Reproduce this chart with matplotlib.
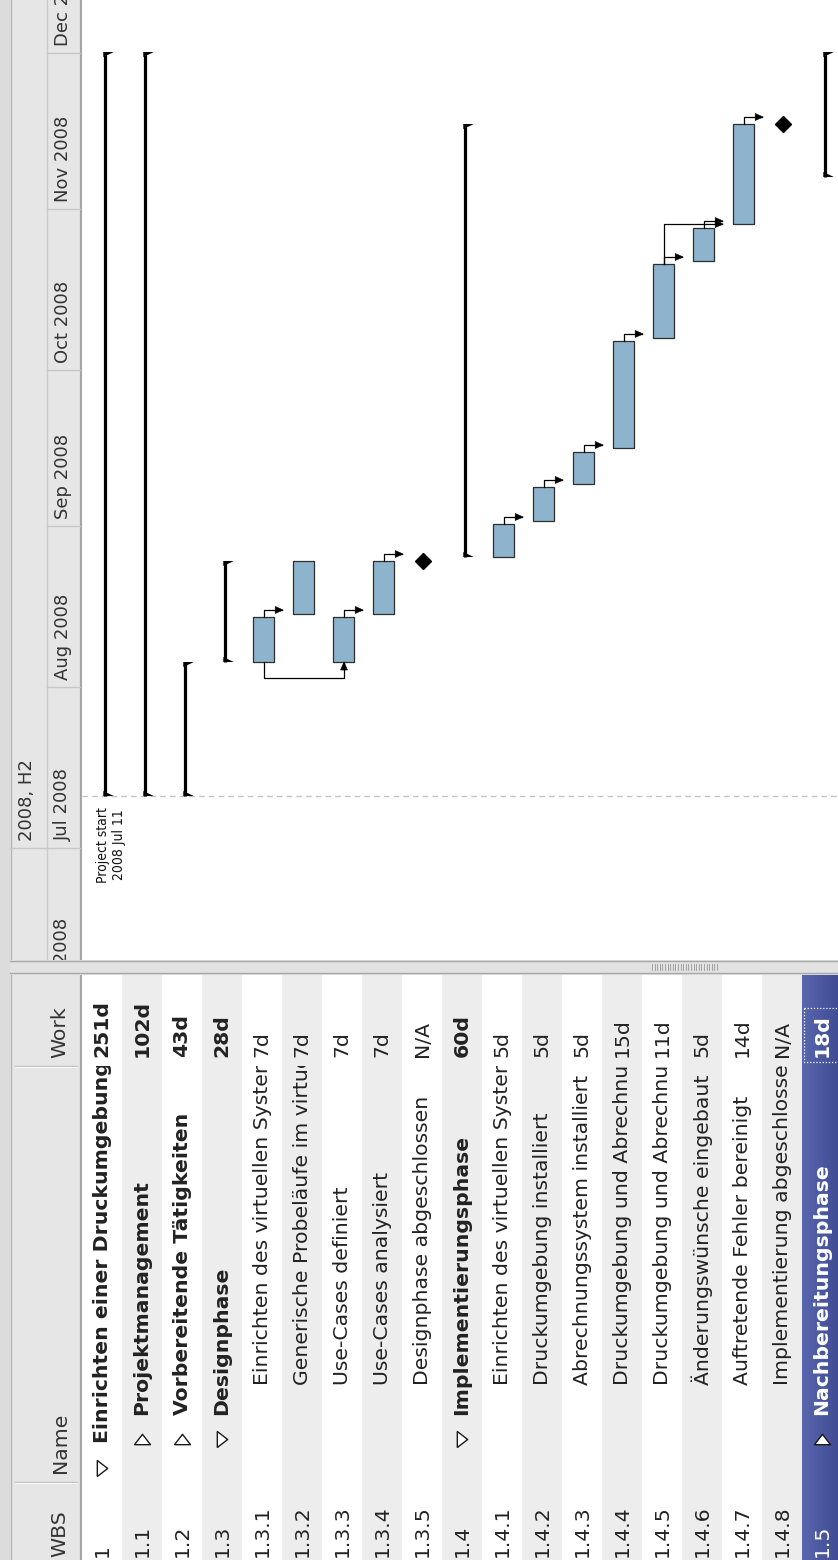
import numpy as np
import pandas as pd
import matplotlib
matplotlib.use('Agg')
import matplotlib.pyplot as plt
import matplotlib.dates as mdates
from matplotlib.patches import Rectangle, Polygon
from matplotlib.transforms import Bbox, TransformedBbox
from matplotlib.path import Path
from matplotlib.colors import LinearSegmentedColormap

# ---- data ----
wbs = ['1', '1.1', '1.2', '1.3', '1.3.1', '1.3.2', '1.3.3', '1.3.4', '1.3.5', '1.4',
       '1.4.1', '1.4.2', '1.4.3', '1.4.4', '1.4.5', '1.4.6', '1.4.7', '1.4.8', '1.5']
names = ['Einrichten einer Druckumgebung', 'Projektmanagement', 'Vorbereitende Tätigkeiten',
         'Designphase', 'Einrichten des virtuellen Systems',
         'Generische Probeläufe im virtuellen System', 'Use-Cases definiert',
         'Use-Cases analysiert', 'Designphase abgeschlossen', 'Implementierungsphase',
         'Einrichten des virtuellen Systems', 'Druckumgebung installiert',
         'Abrechnungssystem installiert', 'Druckumgebung und Abrechnungssystem konfiguriert',
         'Druckumgebung und Abrechnungssystem getestet', 'Änderungswünsche eingebaut',
         'Auftretende Fehler bereinigt', 'Implementierung abgeschlossen', 'Nachbereitungsphase']
work = ['251d', '102d', '43d', '28d', '7d', '7d', '7d', '7d', 'N/A', '60d',
        '5d', '5d', '5d', '15d', '11d', '5d', '14d', 'N/A', '18d']
levels = [1, 2, 2, 2, 3, 3, 3, 3, 3, 2, 3, 3, 3, 3, 3, 3, 3, 3, 2]
kinds = ['summary', 'summary', 'summary', 'summary', 'task', 'task', 'task', 'task',
         'milestone', 'summary', 'task', 'task', 'task', 'task', 'task', 'task', 'task',
         'milestone', 'summary']
expanded = {'1': True, '1.1': False, '1.2': False, '1.3': True, '1.4': True, '1.5': False}
selected = '1.5'

starts = ['2008-07-11 00:00', '2008-07-11 00:00', '2008-07-11 00:00', '2008-08-05 19:00',
          '2008-08-05 19:00', '2008-08-15 01:00', '2008-08-05 19:00', '2008-08-15 01:00',
          '2008-08-25 05:30', '2008-08-26 00:00', '2008-08-26 00:00', '2008-09-01 22:00',
          '2008-09-09 01:00', '2008-09-15 23:30', '2008-10-07 03:30', '2008-10-21 23:00',
          '2008-10-29 02:00', '2008-11-17 08:00', '2008-11-07 03:30']
ends = ['2008-12-01 04:30', '2008-12-01 04:30', '2008-08-05 19:00', '2008-08-25 05:30',
        '2008-08-14 11:00', '2008-08-25 05:30', '2008-08-14 11:00', '2008-08-25 05:30',
        '2008-08-25 05:30', '2008-11-17 08:00', '2008-09-01 08:30', '2008-09-08 11:30',
        '2008-09-15 05:00', '2008-10-06 14:00', '2008-10-21 09:30', '2008-10-28 07:30',
        '2008-11-17 08:00', '2008-11-17 08:00', '2008-12-01 04:30']

links_fs = [('1.3.1', '1.3.2'), ('1.3.3', '1.3.4'), ('1.3.4', '1.3.5'),
            ('1.4.1', '1.4.2'), ('1.4.2', '1.4.3'), ('1.4.3', '1.4.4'), ('1.4.4', '1.4.5'),
            ('1.4.5', '1.4.6'), ('1.4.5', '1.4.7'), ('1.4.6', '1.4.7'), ('1.4.7', '1.4.8')]
links_ss = [('1.3.1', '1.3.3')]

project_start = '2008-07-11'
month_starts = pd.date_range('2008-06-01', '2009-01-01', freq='MS')
half_start = pd.Timestamp('2008-07-01')

plt.rcParams['font.family'] = ['DejaVu Sans']

W, H = 838, 1560
PPD = 5.196   # pixels per day
ROW = 40      # pixels per table row
TXT = '#222222'
FS = 14.7

fig = plt.figure(figsize=(W / 100, H / 100), dpi=100)
fig.patch.set_facecolor('white')


def px_axes(x0, y0, x1, y1, **kw):
    ax = fig.add_axes([x0 / W, 1 - y1 / H, (x1 - x0) / W, (y1 - y0) / H], **kw)
    ax.set_axis_off()
    return ax


def vtext(ax, x, y, s, **kw):
    kw.setdefault('color', TXT)
    return ax.text(x, y, s, rotation=90, rotation_mode='anchor',
                   ha=kw.pop('ha', 'left'), va=kw.pop('va', 'center'), clip_on=True, **kw)


def to_num(seq):
    return mdates.date2num(pd.to_datetime(seq, format='%Y-%m-%d %H:%M').to_pydatetime())


t_start = to_num(starts)
t_end = to_num(ends)
t_jul = mdates.date2num(pd.Timestamp('2008-07-01').to_pydatetime())
idx = {w: i for i, w in enumerate(wbs)}
nrows_vis = (W - 82) / ROW

# ---- gantt area ----
ax_g = px_axes(82, 0, W, 960)
ylo, yhi = t_jul - (960 - 848) / PPD, t_jul + 848 / PPD

t_ps = mdates.date2num(pd.Timestamp(project_start).to_pydatetime())
ax_g.plot([0, nrows_vis], [t_ps, t_ps], color='#c4c4c4', lw=1, ls=(0, (4, 3)))
vtext(ax_g, (111 - 82) / ROW, t_ps - 11 / PPD,
      'Project start\n' + pd.Timestamp(project_start).strftime('%Y %b %d'),
      ha='right', multialignment='center', fontsize=10, fontstretch='condensed',
      color='#111111', linespacing=1.1)

for i, k in enumerate(kinds):
    s, e = t_start[i], t_end[i]
    if k == 'task':
        ax_g.add_patch(Rectangle((i + 0.275, s), 0.525, e - s, fc='#8db4cc',
                                 ec='#2e2e2e', lw=0.9, zorder=3))
    elif k == 'milestone':
        ax_g.plot(i + 0.525, s, marker='D', ms=8.6, color='black', zorder=3)
    else:
        xl = i + 0.57
        ax_g.plot([xl, xl], [s, e], color='black', lw=2.3, solid_capstyle='butt', zorder=3)
        cw, ch = 9 / ROW, 5 / PPD
        x0 = xl - 1.5 / ROW
        ax_g.add_patch(Polygon([(x0, e), (xl + cw, e), (x0, e - ch)], fc='black', lw=0, zorder=3))
        ax_g.add_patch(Polygon([(x0, s), (xl + cw, s), (x0, s + ch)], fc='black', lw=0, zorder=3))


def arrow_head(ax, tx, ty, direction):
    if direction == 'right':
        v = [(tx, ty), (tx - 8 / ROW, ty + 3.5 / PPD), (tx - 8 / ROW, ty - 3.5 / PPD)]
    else:
        v = [(tx, ty), (tx - 3.5 / ROW, ty - 8 / PPD), (tx + 3.5 / ROW, ty - 8 / PPD)]
    ax.add_patch(Polygon(v, fc='black', ec='black', lw=0.4, zorder=4))


for a, b in links_fs:
    i, j = idx[a], idx[b]
    xc = i + 0.55
    yh = max(t_end[i] + 7 / PPD, t_start[j])
    ax_g.plot([xc, xc, j], [t_end[i], yh, yh], color='black', lw=0.9, zorder=4)
    arrow_head(ax_g, j + 0.03, yh, 'right')

for a, b in links_ss:
    i, j = idx[a], idx[b]
    yl = t_start[i] - 16 / PPD
    ax_g.plot([i + 0.55, i + 0.55, j + 0.55, j + 0.55],
              [t_start[i], yl, yl, t_start[j]], color='black', lw=0.9, zorder=4)
    arrow_head(ax_g, j + 0.55, t_start[j], 'up')

ax_g.set_xlim(0, nrows_vis)
ax_g.set_ylim(ylo, yhi)

# ---- timeline header ----
ax_h = px_axes(0, 0, 82, 960, sharey=ax_g)
ax_h.add_patch(Rectangle((0, ylo), 10, yhi - ylo, fc='#dcdcdc', lw=0))
ax_h.add_patch(Rectangle((10, ylo), 72, yhi - ylo, fc='#e6e6e6', lw=0))
ax_h.plot([10.5, 10.5], [ylo, yhi], color='#b4b4b4', lw=1)
ax_h.plot([47, 47], [ylo, yhi], color='#cacaca', lw=1)
ax_h.plot([81, 81], [ylo, yhi], color='#a4a4a4', lw=1.6)
for m in month_starts:
    tm = mdates.date2num(m.to_pydatetime())
    ax_h.plot([47, 80], [tm, tm], color='#c6c6c6', lw=1)
    vtext(ax_h, 63, tm + 7 / PPD, m.strftime('%b %Y'), fontsize=13, color='#333333')
th = mdates.date2num(half_start.to_pydatetime())
ax_h.plot([10, 47], [th, th], color='#c6c6c6', lw=1)
vtext(ax_h, 27, th + 7 / PPD, f'{half_start.year}, H{1 if half_start.month < 7 else 2}',
      fontsize=13, color='#333333')
ax_h.set_xlim(0, 82)
ax_h.set_ylim(ylo, yhi)

# ---- splitter ----
ax_s = px_axes(0, 960, W, 975)
ax_s.add_patch(Rectangle((0, 960), W, 15, fc='#e2e2e2', lw=0))
ax_s.add_patch(Rectangle((0, 960), 10, 15, fc='#dcdcdc', lw=0))
ax_s.plot([10, W], [961, 961], color='#a8a8a8', lw=1)
ax_s.plot([10, W], [972.5, 972.5], color='#a8a8a8', lw=1)
for gx in np.arange(652, 718, 2.6):
    ax_s.plot([gx, gx], [963.5, 970], color='#9a9a9a', lw=0.6)
ax_s.set_xlim(0, W)
ax_s.set_ylim(975, 960)

# ---- table ----
ax_t = px_axes(82, 975, W, H)
for i in range(len(wbs)):
    ax_t.add_patch(Rectangle((i, 975), 1, H - 975,
                             fc='white' if i % 2 == 0 else '#ededed', lw=0, zorder=0))
sel = idx[selected]
sel_cmap = LinearSegmentedColormap.from_list('sel', ['#5867ae', '#3e4992'])
ax_t.imshow(np.linspace(0, 1, 64)[None, :], cmap=sel_cmap, aspect='auto',
            extent=(sel, sel + 1, H, 975), zorder=0.5)

name_clip = TransformedBbox(Bbox([[0, 1066], [len(wbs), 1482]]), ax_t.transData)
name_y = {1: 1443, 2: 1415, 3: 1385}
tri_y = {1: 1468, 2: 1439}
open_tri = Path([(-0.65, -1), (-0.65, 1), (0.65, 0), (-0.65, -1)])
closed_tri = Path([(-1, -0.65), (1, -0.65), (0, 0.65), (-1, -0.65)])

for i, w in enumerate(wbs):
    xc = i + 0.5
    is_sum = kinds[i] == 'summary'
    col = 'white' if w == selected else TXT
    fw = 'bold' if is_sum else 'normal'
    vtext(ax_t, xc, 1557, w, fontsize=FS, color=col)
    t = vtext(ax_t, xc, name_y[levels[i]], names[i], fontsize=FS, color=col, fontweight=fw)
    t.set_clip_box(name_clip)
    vtext(ax_t, xc, 1057, work[i], fontsize=FS, color=col, fontweight=fw)
    if w in expanded:
        ax_t.plot(xc, tri_y[levels[i]], marker=open_tri if expanded[w] else closed_tri,
                  ms=11.5, mfc='white', mec='#1a1a1a', mew=1.0, zorder=3)

ax_t.add_patch(Rectangle((sel + 0.06, 1008), 0.93, 54, fc='none', ec='white',
                         lw=0.9, ls=(0, (1, 1.5)), zorder=3))
ax_t.set_xlim(0, nrows_vis)
ax_t.set_ylim(H, 975)

# ---- table header ----
ax_th = px_axes(0, 975, 82, H)
ax_th.add_patch(Rectangle((0, 975), 10, H - 975, fc='#dcdcdc', lw=0))
ax_th.add_patch(Rectangle((10, 975), 72, H - 975, fc='#e6e6e6', lw=0))
ax_th.plot([10.5, 10.5], [975, H], color='#b4b4b4', lw=1)
ax_th.plot([81, 81], [975, H], color='#a4a4a4', lw=1.6)
for sy in (1066, 1482):
    ax_th.plot([15, 77], [sy, sy], color='#c2c2c2', lw=1)
    ax_th.plot([15, 77], [sy + 1.2, sy + 1.2], color='#f6f6f6', lw=0.8)
for lbl, ly in (('WBS', 1557), ('Name', 1473), ('Work', 1058)):
    vtext(ax_th, 60, ly, lbl, fontsize=FS, color='#333333')
ax_th.set_xlim(0, 82)
ax_th.set_ylim(H, 975)

fig.savefig('out.png', dpi=100)
